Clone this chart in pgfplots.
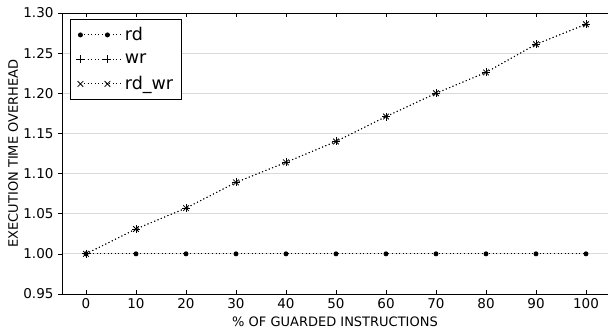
\documentclass[border=0pt]{standalone}
\usepackage{fontspec}
\setmainfont{DejaVu Sans}
\usepackage{pgfplots}
\pgfplotsset{compat=1.18}
\usetikzlibrary{calc}
\begin{document}
\fontsize{13}{15}\selectfont
\begin{tikzpicture}[x=1pt,y=1pt]
\begin{axis}[
  name=ax,
  scale only axis,
  width=546pt, height=281pt,
  xmin=-4.8, xmax=104.4,
  ymin=0.95, ymax=1.30,
  xtick={0,10,...,100},
  ytick={0.95,1.00,...,1.30},
  yticklabel style={/pgf/number format/.cd,fixed,fixed zerofill,precision=2},
  /pgf/number format/assume math mode=true,
  tick label style={font=\fontsize{13.5}{15}\selectfont},
  label style={font=\fontsize{13}{15}\selectfont},
  xlabel={\% OF GUARDED INSTRUCTIONS},
  ylabel={EXECUTION TIME OVERHEAD},
  xlabel style={at={(axis description cs:0.5,0)}, anchor=base, yshift=-33pt},
  ylabel style={at={(axis description cs:0,0.5)}, anchor=base, xshift=0pt, yshift=44pt},
  ymajorgrids,
  grid style={gray!30, line width=0.8pt},
  axis line style={line width=0.9pt},
  x tick style={line width=0.6pt, black},
  y tick style={line width=0.6pt, black},
  xtick pos=both, ytick pos=both,
  xtick align=inside, ytick align=outside,
  major tick length=4pt,
  legend style={anchor=north west, draw=black, line width=0.8pt,
    font=\fontsize{17.5}{19}\selectfont, row sep=7pt, inner xsep=6pt, inner ysep=6pt,
    at={(axis description cs:0.0147,0.979)}},
  legend cell align=left,
  legend image code/.code={\draw[#1] plot coordinates {(0pt,0pt) (27pt,0pt)}; \path (0pt,0pt) -- (42pt,0pt);},
]
\addplot[black, dash pattern=on 1pt off 2.6pt, line width=0.9pt, mark=*, mark size=2pt, mark options={solid}] coordinates {
(0,1.000)(10,1.000)(20,1.000)(30,1.000)(40,1.000)(50,1.000)(60,1.000)(70,1.000)(80,1.000)(90,1.000)(100,1.000)};
\addlegendentry{rd}
\addplot[black, dash pattern=on 1pt off 2.6pt, line width=0.9pt, mark=+, mark size=4pt, mark options={solid, line width=0.8pt}] coordinates {
(0,1.000)(10,1.031)(20,1.057)(30,1.089)(40,1.114)(50,1.140)(60,1.171)(70,1.200)(80,1.226)(90,1.261)(100,1.286)};
\addlegendentry{wr}
\addplot[black, dash pattern=on 1pt off 2.6pt, line width=0.9pt, mark=x, mark size=4pt, mark options={solid, line width=0.8pt}] coordinates {
(0,1.000)(10,1.031)(20,1.057)(30,1.089)(40,1.114)(50,1.140)(60,1.171)(70,1.200)(80,1.226)(90,1.261)(100,1.286)};
\addlegendentry{rd\_wr}
\end{axis}
\pgfresetboundingbox
\path ($(ax.south west)+(-62pt,-40pt)$) rectangle ($(ax.north east)+(0pt,13pt)$);
\end{tikzpicture}
\end{document}
